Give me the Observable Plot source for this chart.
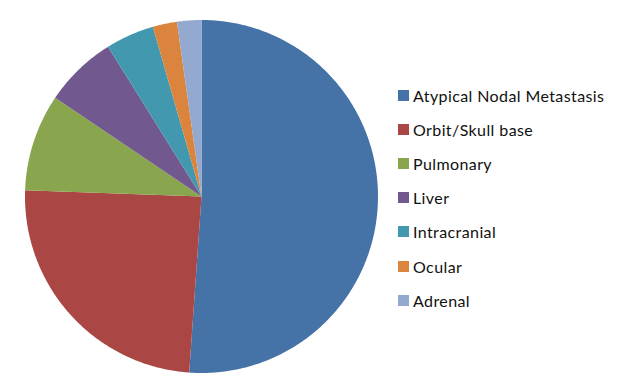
<!DOCTYPE html>
<html>
<head>
<meta charset="utf-8">
<script src="https://cdn.jsdelivr.net/npm/d3@7"></script>
<script src="https://cdn.jsdelivr.net/npm/@observablehq/plot@0.6"></script>
<style>
  html, body { margin: 0; padding: 0; background: #fff; }
  #wrap { position: relative; width: 617px; height: 387px; overflow: hidden; }
  #legend { position: absolute; left: 398px; top: 78px; font-family: Lato, "Open Sans", sans-serif; font-size: 16px; letter-spacing: 0.4px; color: #111; }
  .item { display: flex; align-items: center; height: 34.2px; white-space: nowrap; }
  .sw { width: 11px; height: 11px; margin-right: 4px; flex: none; }
</style>
</head>
<body>
<div id="wrap"><div id="legend"></div></div>
<script>
const categories = ["Atypical Nodal Metastasis", "Orbit/Skull base", "Pulmonary", "Liver", "Intracranial", "Ocular", "Adrenal"];
const values = [23, 11, 4, 3, 2, 1, 1];
const colors = ["#4572A7", "#AA4643", "#89A54E", "#71588F", "#4198AF", "#DB843D", "#93A9CF"];

const arcs = d3.pie().sort(null).value((d, i) => values[i])(categories);
const pts = [];
arcs.forEach((a, i) => {
  const n = Math.max(2, Math.ceil((a.endAngle - a.startAngle) / (Math.PI / 360)));
  for (let k = 0; k <= n; k++) {
    const t = a.startAngle + (a.endAngle - a.startAngle) * k / n;
    pts.push({label: categories[i], x: Math.sin(t), y: Math.cos(t), cx: 0, cy: 0});
  }
});

const chart = Plot.plot({
  width: 617,
  height: 387,
  marginLeft: 25,
  marginRight: 617 - 378,
  marginTop: 20,
  marginBottom: 387 - 373,
  x: {domain: [-1, 1], axis: null},
  y: {domain: [-1, 1], axis: null},
  color: {domain: categories, range: colors},
  marks: [
    Plot.area(pts, {x1: "x", y1: "y", x2: "cx", y2: "cy", z: "label", fill: "label", curve: "linear"})
  ]
});
chart.style.position = "absolute";
chart.style.left = "0";
chart.style.top = "0";
document.getElementById("wrap").prepend(chart);

const legend = document.getElementById("legend");
categories.forEach((c, i) => {
  const row = document.createElement("div");
  row.className = "item";
  const sw = document.createElement("span");
  sw.className = "sw";
  sw.style.background = colors[i];
  const tx = document.createElement("span");
  tx.textContent = c;
  row.append(sw, tx);
  legend.append(row);
});
</script>
</body>
</html>
